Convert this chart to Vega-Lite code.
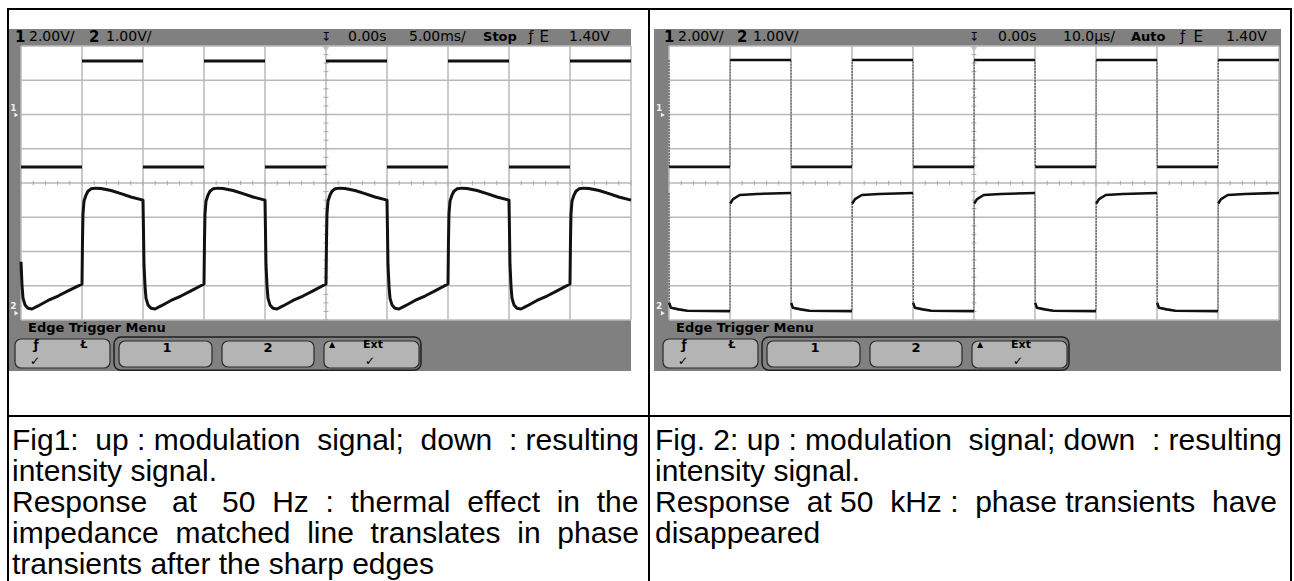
{
"$schema": "https://vega.github.io/schema/vega-lite/v6.json",
"padding": {"left": 7, "top": 8, "right": 0, "bottom": 0},
"background": "white",
"data": {"values": [{}]},
"datasets": {
"divx": [{"d":0},{"d":1},{"d":2},{"d":3},{"d":4},{"d":5},{"d":6},{"d":7},{"d":8},{"d":9},{"d":10}],
"divy": [{"d":-4},{"d":-3},{"d":-2},{"d":-1},{"d":0},{"d":1},{"d":2},{"d":3},{"d":4}],
"ticksx": [{"d":0},{"d":0.2},{"d":0.4},{"d":0.6},{"d":0.8},{"d":1},{"d":1.2},{"d":1.4},{"d":1.6},{"d":1.8},{"d":2},{"d":2.2},{"d":2.4},{"d":2.6},{"d":2.8},{"d":3},{"d":3.2},{"d":3.4},{"d":3.6},{"d":3.8},{"d":4},{"d":4.2},{"d":4.4},{"d":4.6},{"d":4.8},{"d":5},{"d":5.2},{"d":5.4},{"d":5.6},{"d":5.8},{"d":6},{"d":6.2},{"d":6.4},{"d":6.6},{"d":6.8},{"d":7},{"d":7.2},{"d":7.4},{"d":7.6},{"d":7.8},{"d":8},{"d":8.2},{"d":8.4},{"d":8.6},{"d":8.8},{"d":9},{"d":9.2},{"d":9.4},{"d":9.6},{"d":9.8},{"d":10}],
"ticksy": [{"d":-4},{"d":-3.75},{"d":-3.5},{"d":-3.25},{"d":-3},{"d":-2.75},{"d":-2.5},{"d":-2.25},{"d":-2},{"d":-1.75},{"d":-1.5},{"d":-1.25},{"d":-1},{"d":-0.75},{"d":-0.5},{"d":-0.25},{"d":0},{"d":0.25},{"d":0.5},{"d":0.75},{"d":1},{"d":1.25},{"d":1.5},{"d":1.75},{"d":2},{"d":2.25},{"d":2.5},{"d":2.75},{"d":3},{"d":3.25},{"d":3.5},{"d":3.75},{"d":4}],
"s1ch1": [
{"seg":"l0","t":0,"v":0.47},{"seg":"l0","t":1,"v":0.47},
{"seg":"h1","t":1,"v":3.56},{"seg":"h1","t":2,"v":3.56},
{"seg":"l2","t":2,"v":0.47},{"seg":"l2","t":3,"v":0.47},
{"seg":"h3","t":3,"v":3.56},{"seg":"h3","t":4,"v":3.56},
{"seg":"l4","t":4,"v":0.47},{"seg":"l4","t":5,"v":0.47},
{"seg":"h5","t":5,"v":3.56},{"seg":"h5","t":6,"v":3.56},
{"seg":"l6","t":6,"v":0.47},{"seg":"l6","t":7,"v":0.47},
{"seg":"h7","t":7,"v":3.56},{"seg":"h7","t":8,"v":3.56},
{"seg":"l8","t":8,"v":0.47},{"seg":"l8","t":9,"v":0.47},
{"seg":"h9","t":9,"v":3.56},{"seg":"h9","t":10,"v":3.56}],
"s1ch2": [
{"t":0,"v":-2.3},{"t":0.017,"v":-3.01},{"t":0.033,"v":-3.36},{"t":0.066,"v":-3.56},{"t":0.115,"v":-3.66},{"t":0.181,"v":-3.68},{"t":0.279,"v":-3.59},{"t":0.443,"v":-3.43},{"t":0.607,"v":-3.3},{"t":0.771,"v":-3.15},{"t":1,"v":-2.95},
{"t":1.008,"v":-1.69},{"t":1.016,"v":-0.91},{"t":1.033,"v":-0.53},{"t":1.066,"v":-0.35},{"t":1.098,"v":-0.24},{"t":1.148,"v":-0.17},{"t":1.23,"v":-0.15},{"t":1.311,"v":-0.16},{"t":1.475,"v":-0.22},{"t":1.639,"v":-0.31},{"t":1.803,"v":-0.41},{"t":2,"v":-0.5},
{"t":2.008,"v":-1.4},{"t":2.016,"v":-2.37},{"t":2.033,"v":-3.01},{"t":2.049,"v":-3.36},{"t":2.082,"v":-3.56},{"t":2.131,"v":-3.66},{"t":2.197,"v":-3.68},{"t":2.295,"v":-3.59},{"t":2.459,"v":-3.43},{"t":2.623,"v":-3.3},{"t":2.787,"v":-3.15},{"t":3,"v":-2.95},
{"t":3.008,"v":-1.69},{"t":3.016,"v":-0.91},{"t":3.033,"v":-0.53},{"t":3.066,"v":-0.35},{"t":3.098,"v":-0.24},{"t":3.148,"v":-0.17},{"t":3.23,"v":-0.15},{"t":3.311,"v":-0.16},{"t":3.475,"v":-0.22},{"t":3.639,"v":-0.31},{"t":3.803,"v":-0.41},{"t":4,"v":-0.5},
{"t":4.008,"v":-1.4},{"t":4.016,"v":-2.37},{"t":4.033,"v":-3.01},{"t":4.049,"v":-3.36},{"t":4.082,"v":-3.56},{"t":4.131,"v":-3.66},{"t":4.197,"v":-3.68},{"t":4.295,"v":-3.59},{"t":4.459,"v":-3.43},{"t":4.623,"v":-3.3},{"t":4.787,"v":-3.15},{"t":5,"v":-2.95},
{"t":5.008,"v":-1.69},{"t":5.016,"v":-0.91},{"t":5.033,"v":-0.53},{"t":5.066,"v":-0.35},{"t":5.098,"v":-0.24},{"t":5.148,"v":-0.17},{"t":5.23,"v":-0.15},{"t":5.311,"v":-0.16},{"t":5.475,"v":-0.22},{"t":5.639,"v":-0.31},{"t":5.803,"v":-0.41},{"t":6,"v":-0.5},
{"t":6.008,"v":-1.4},{"t":6.016,"v":-2.37},{"t":6.033,"v":-3.01},{"t":6.049,"v":-3.36},{"t":6.082,"v":-3.56},{"t":6.131,"v":-3.66},{"t":6.197,"v":-3.68},{"t":6.295,"v":-3.59},{"t":6.459,"v":-3.43},{"t":6.623,"v":-3.3},{"t":6.787,"v":-3.15},{"t":7,"v":-2.95},
{"t":7.008,"v":-1.69},{"t":7.016,"v":-0.91},{"t":7.033,"v":-0.53},{"t":7.066,"v":-0.35},{"t":7.098,"v":-0.24},{"t":7.148,"v":-0.17},{"t":7.23,"v":-0.15},{"t":7.311,"v":-0.16},{"t":7.475,"v":-0.22},{"t":7.639,"v":-0.31},{"t":7.803,"v":-0.41},{"t":8,"v":-0.5},
{"t":8.008,"v":-1.4},{"t":8.016,"v":-2.37},{"t":8.033,"v":-3.01},{"t":8.049,"v":-3.36},{"t":8.082,"v":-3.56},{"t":8.131,"v":-3.66},{"t":8.197,"v":-3.68},{"t":8.295,"v":-3.59},{"t":8.459,"v":-3.43},{"t":8.623,"v":-3.3},{"t":8.787,"v":-3.15},{"t":9,"v":-2.95},
{"t":9.008,"v":-1.69},{"t":9.016,"v":-0.91},{"t":9.033,"v":-0.53},{"t":9.066,"v":-0.35},{"t":9.098,"v":-0.24},{"t":9.148,"v":-0.17},{"t":9.23,"v":-0.15},{"t":9.311,"v":-0.16},{"t":9.475,"v":-0.22},{"t":9.639,"v":-0.31},{"t":9.803,"v":-0.41},{"t":10,"v":-0.5}],
"s2ch1": [
{"seg":"h0","t":0,"v":3.59},
{"seg":"l0","t":0.003,"v":0.47},{"seg":"l0","t":1,"v":0.47},
{"seg":"h1","t":1.003,"v":3.59},{"seg":"h1","t":2,"v":3.59},
{"seg":"l2","t":2.003,"v":0.47},{"seg":"l2","t":3,"v":0.47},
{"seg":"h3","t":3.003,"v":3.59},{"seg":"h3","t":4,"v":3.59},
{"seg":"l4","t":4.003,"v":0.47},{"seg":"l4","t":5,"v":0.47},
{"seg":"h5","t":5.003,"v":3.59},{"seg":"h5","t":6,"v":3.59},
{"seg":"l6","t":6.003,"v":0.47},{"seg":"l6","t":7,"v":0.47},
{"seg":"h7","t":7.003,"v":3.59},{"seg":"h7","t":8,"v":3.59},
{"seg":"l8","t":8.003,"v":0.47},{"seg":"l8","t":9,"v":0.47},
{"seg":"h9","t":9.003,"v":3.59},{"seg":"h9","t":10,"v":3.59}],
"s2ch2": [
{"seg":"h0","t":0,"v":-0.29},
{"seg":"l0","t":0.003,"v":-3.5},{"seg":"l0","t":0.03,"v":-3.64},{"seg":"l0","t":0.16,"v":-3.69},{"seg":"l0","t":0.3,"v":-3.73},{"seg":"l0","t":1,"v":-3.74},
{"seg":"h1","t":1.003,"v":-0.6},{"seg":"h1","t":1.05,"v":-0.47},{"seg":"h1","t":1.16,"v":-0.35},{"seg":"h1","t":1.44,"v":-0.32},{"seg":"h1","t":2,"v":-0.29},
{"seg":"l2","t":2.003,"v":-3.5},{"seg":"l2","t":2.03,"v":-3.64},{"seg":"l2","t":2.16,"v":-3.69},{"seg":"l2","t":2.3,"v":-3.73},{"seg":"l2","t":3,"v":-3.74},
{"seg":"h3","t":3.003,"v":-0.6},{"seg":"h3","t":3.05,"v":-0.47},{"seg":"h3","t":3.16,"v":-0.35},{"seg":"h3","t":3.44,"v":-0.32},{"seg":"h3","t":4,"v":-0.29},
{"seg":"l4","t":4.003,"v":-3.5},{"seg":"l4","t":4.03,"v":-3.64},{"seg":"l4","t":4.16,"v":-3.69},{"seg":"l4","t":4.3,"v":-3.73},{"seg":"l4","t":5,"v":-3.74},
{"seg":"h5","t":5.003,"v":-0.6},{"seg":"h5","t":5.05,"v":-0.47},{"seg":"h5","t":5.16,"v":-0.35},{"seg":"h5","t":5.44,"v":-0.32},{"seg":"h5","t":6,"v":-0.29},
{"seg":"l6","t":6.003,"v":-3.5},{"seg":"l6","t":6.03,"v":-3.64},{"seg":"l6","t":6.16,"v":-3.69},{"seg":"l6","t":6.3,"v":-3.73},{"seg":"l6","t":7,"v":-3.74},
{"seg":"h7","t":7.003,"v":-0.6},{"seg":"h7","t":7.05,"v":-0.47},{"seg":"h7","t":7.16,"v":-0.35},{"seg":"h7","t":7.44,"v":-0.32},{"seg":"h7","t":8,"v":-0.29},
{"seg":"l8","t":8.003,"v":-3.5},{"seg":"l8","t":8.03,"v":-3.64},{"seg":"l8","t":8.16,"v":-3.69},{"seg":"l8","t":8.3,"v":-3.73},{"seg":"l8","t":9,"v":-3.74},
{"seg":"h9","t":9.003,"v":-0.6},{"seg":"h9","t":9.05,"v":-0.47},{"seg":"h9","t":9.16,"v":-0.35},{"seg":"h9","t":9.44,"v":-0.32},{"seg":"h9","t":10,"v":-0.29}],
"cap1": [
{"line":1,"text":"Fig1: \u00a0up : modulation \u00a0signal; \u00a0down \u00a0: resulting"},
{"line":2,"text":"intensity signal."},
{"line":3,"text":"Response \u00a0\u00a0at \u00a0\u00a050 \u00a0Hz \u00a0: \u00a0thermal \u00a0effect \u00a0in \u00a0the"},
{"line":4,"text":"impedance \u00a0matched \u00a0line \u00a0translates \u00a0in \u00a0phase"},
{"line":5,"text":"transients after the sharp edges"}],
"cap2": [
{"line":1,"text":"Fig. 2: up : modulation \u00a0signal; down \u00a0: resulting"},
{"line":2,"text":"intensity signal."},
{"line":3,"text":"\u00a0Response \u00a0at 50 \u00a0kHz : \u00a0phase transients \u00a0have"},
{"line":4,"text":"disappeared"}]
},
"config": {
"view": {"stroke": "#000000", "strokeWidth": 2},
"axis": {"disable": true},
"legend": {"disable": true},
"text": {"font": "DejaVu Sans", "color": "#000000"}
},
"columns": 2,
"spacing": 0,
"bounds": "flush",
"concat": [
{"width": 641, "height": 407,
"layer": [
{"mark": {"type": "rect", "color": "#808080"},
 "encoding": {"x": {"datum": -0.197, "type": "quantitative", "scale": {"domain": [-0.2131, 10.2951], "nice": false, "zero": false}}, "x2": {"datum": 10.0},
 "y": {"datum": 4.496, "type": "quantitative", "scale": {"domain": [-6.803, 5.0803], "nice": false, "zero": false}}, "y2": {"datum": -5.489}}},
{"mark": {"type": "rect", "color": "#ffffff"}, "encoding": {"x": {"datum": 0, "type": "quantitative"}, "x2": {"datum": 10}, "y": {"datum": 4, "type": "quantitative"}, "y2": {"datum": -4}}},
{"data": {"name": "divx"}, "mark": {"type": "rule", "color": "#b9b9b9", "strokeWidth": 1.5}, "encoding": {"x": {"field": "d", "type": "quantitative"}, "y": {"datum": -4, "type": "quantitative"}, "y2": {"datum": 4}}},
{"data": {"name": "divy"}, "mark": {"type": "rule", "color": "#b9b9b9", "strokeWidth": 1.5}, "encoding": {"y": {"field": "d", "type": "quantitative"}, "x": {"datum": 0, "type": "quantitative"}, "x2": {"datum": 10}}},
{"data": {"name": "ticksx"}, "mark": {"type": "rule", "color": "#a8a8a8", "strokeWidth": 1}, "encoding": {"x": {"field": "d", "type": "quantitative"}, "y": {"datum": -0.065, "type": "quantitative"}, "y2": {"datum": 0.065}}},
{"data": {"name": "ticksy"}, "mark": {"type": "rule", "color": "#a8a8a8", "strokeWidth": 1}, "encoding": {"y": {"field": "d", "type": "quantitative"}, "x": {"datum": 4.96, "type": "quantitative"}, "x2": {"datum": 5.04}}},
{"mark": {"type": "point", "shape": "triangle-down", "filled": true, "color": "#c4c4c4", "size": 40, "opacity": 1}, "encoding": {"x": {"datum": 5, "type": "quantitative"}, "y": {"datum": 3.9, "type": "quantitative"}}},
{"data": {"name": "s1ch1"}, "mark": {"type": "line", "color": "#111111", "strokeWidth": 3, "strokeCap": "butt"}, "encoding": {"x": {"field": "t", "type": "quantitative"}, "y": {"field": "v", "type": "quantitative"}, "detail": {"field": "seg", "type": "nominal"}}},
{"data": {"name": "s1ch2"}, "mark": {"type": "line", "color": "#111111", "strokeWidth": 3, "strokeJoin": "round"}, "encoding": {"x": {"field": "t", "type": "quantitative"}, "y": {"field": "v", "type": "quantitative"}}},
{"mark": {"type": "text", "text": "1", "align": "left", "baseline": "middle", "fontSize": 15, "fontWeight": "bold"}, "encoding": {"x": {"datum": -0.098, "type": "quantitative"}, "y": {"datum": 4.25, "type": "quantitative"}}},
{"mark": {"type": "text", "text": "2.00V/", "align": "left", "baseline": "middle", "fontSize": 14}, "encoding": {"x": {"datum": 0.131, "type": "quantitative"}, "y": {"datum": 4.25, "type": "quantitative"}}},
{"mark": {"type": "text", "text": "2", "align": "left", "baseline": "middle", "fontSize": 15, "fontWeight": "bold"}, "encoding": {"x": {"datum": 1.115, "type": "quantitative"}, "y": {"datum": 4.25, "type": "quantitative"}}},
{"mark": {"type": "text", "text": "1.00V/", "align": "left", "baseline": "middle", "fontSize": 14}, "encoding": {"x": {"datum": 1.393, "type": "quantitative"}, "y": {"datum": 4.25, "type": "quantitative"}}},
{"mark": {"type": "text", "text": "↧", "align": "center", "baseline": "middle", "fontSize": 12}, "encoding": {"x": {"datum": 5.0, "type": "quantitative"}, "y": {"datum": 4.25, "type": "quantitative"}}},
{"mark": {"type": "text", "text": "0.00s", "align": "left", "baseline": "middle", "fontSize": 14}, "encoding": {"x": {"datum": 5.361, "type": "quantitative"}, "y": {"datum": 4.25, "type": "quantitative"}}},
{"mark": {"type": "text", "text": "5.00ms/", "align": "left", "baseline": "middle", "fontSize": 14}, "encoding": {"x": {"datum": 6.361, "type": "quantitative"}, "y": {"datum": 4.25, "type": "quantitative"}}},
{"mark": {"type": "text", "text": "Stop", "align": "left", "baseline": "middle", "fontSize": 13, "fontWeight": "bold"}, "encoding": {"x": {"datum": 7.574, "type": "quantitative"}, "y": {"datum": 4.25, "type": "quantitative"}}},
{"mark": {"type": "text", "text": "ƒ", "align": "center", "baseline": "middle", "fontSize": 14}, "encoding": {"x": {"datum": 8.36, "type": "quantitative"}, "y": {"datum": 4.25, "type": "quantitative"}}},
{"mark": {"type": "text", "text": "E", "align": "left", "baseline": "middle", "fontSize": 15}, "encoding": {"x": {"datum": 8.5, "type": "quantitative"}, "y": {"datum": 4.25, "type": "quantitative"}}},
{"mark": {"type": "text", "text": "1.40V", "align": "left", "baseline": "middle", "fontSize": 14}, "encoding": {"x": {"datum": 8.984, "type": "quantitative"}, "y": {"datum": 4.25, "type": "quantitative"}}},
{"mark": {"type": "text", "text": "1", "align": "center", "baseline": "middle", "fontSize": 9, "fontWeight": "bold", "color": "#eeeeee"}, "encoding": {"x": {"datum": -0.125, "type": "quantitative"}, "y": {"datum": 2.2, "type": "quantitative"}}},
{"mark": {"type": "point", "shape": "triangle-right", "filled": true, "color": "#eeeeee", "size": 22, "opacity": 1}, "encoding": {"x": {"datum": -0.075, "type": "quantitative"}, "y": {"datum": 1.985, "type": "quantitative"}}},
{"mark": {"type": "text", "text": "2", "align": "center", "baseline": "middle", "fontSize": 9, "fontWeight": "bold", "color": "#eeeeee"}, "encoding": {"x": {"datum": -0.125, "type": "quantitative"}, "y": {"datum": -3.59, "type": "quantitative"}}},
{"mark": {"type": "point", "shape": "triangle-right", "filled": true, "color": "#eeeeee", "size": 22, "opacity": 1}, "encoding": {"x": {"datum": -0.075, "type": "quantitative"}, "y": {"datum": -3.8, "type": "quantitative"}}},
{"mark": {"type": "text", "text": "Edge  Trigger  Menu", "align": "left", "baseline": "middle", "fontSize": 13, "fontWeight": "bold"}, "encoding": {"x": {"datum": 0.115, "type": "quantitative"}, "y": {"datum": -4.234, "type": "quantitative"}}},
{"mark": {"type": "rect", "fillOpacity": 0, "stroke": "#1e1e1e", "strokeWidth": 1.5, "cornerRadius": 7}, "encoding": {"x": {"datum": 1.525, "type": "quantitative"}, "x2": {"datum": 6.557}, "y": {"datum": -4.496, "type": "quantitative"}, "y2": {"datum": -5.47}}},
{"mark": {"type": "rect", "fill": "#b4b4b4", "stroke": "#2a2a2a", "strokeWidth": 1.2, "cornerRadius": 6}, "encoding": {"x": {"datum": -0.098, "type": "quantitative"}, "x2": {"datum": 1.459}, "y": {"datum": -4.555, "type": "quantitative"}, "y2": {"datum": -5.401}}},
{"mark": {"type": "rect", "fill": "#b4b4b4", "stroke": "#2a2a2a", "strokeWidth": 1.2, "cornerRadius": 6}, "encoding": {"x": {"datum": 1.607, "type": "quantitative"}, "x2": {"datum": 3.131}, "y": {"datum": -4.613, "type": "quantitative"}, "y2": {"datum": -5.372}}},
{"mark": {"type": "rect", "fill": "#b4b4b4", "stroke": "#2a2a2a", "strokeWidth": 1.2, "cornerRadius": 6}, "encoding": {"x": {"datum": 3.295, "type": "quantitative"}, "x2": {"datum": 4.803}, "y": {"datum": -4.613, "type": "quantitative"}, "y2": {"datum": -5.372}}},
{"mark": {"type": "rect", "fill": "#b4b4b4", "stroke": "#2a2a2a", "strokeWidth": 1.2, "cornerRadius": 6}, "encoding": {"x": {"datum": 4.967, "type": "quantitative"}, "x2": {"datum": 6.525}, "y": {"datum": -4.613, "type": "quantitative"}, "y2": {"datum": -5.401}}},
{"mark": {"type": "text", "text": "ƒ", "align": "center", "baseline": "middle", "fontSize": 12, "fontWeight": "bold"}, "encoding": {"x": {"datum": 0.246, "type": "quantitative"}, "y": {"datum": -4.72, "type": "quantitative"}}},
{"mark": {"type": "text", "text": "Ł", "align": "center", "baseline": "middle", "fontSize": 11, "fontWeight": "bold"}, "encoding": {"x": {"datum": 1.033, "type": "quantitative"}, "y": {"datum": -4.72, "type": "quantitative"}}},
{"mark": {"type": "text", "text": "✓", "align": "center", "baseline": "middle", "fontSize": 12, "fontWeight": "bold"}, "encoding": {"x": {"datum": 0.23, "type": "quantitative"}, "y": {"datum": -5.2, "type": "quantitative"}}},
{"mark": {"type": "text", "text": "1", "align": "center", "baseline": "middle", "fontSize": 13, "fontWeight": "bold"}, "encoding": {"x": {"datum": 2.393, "type": "quantitative"}, "y": {"datum": -4.818, "type": "quantitative"}}},
{"mark": {"type": "text", "text": "2", "align": "center", "baseline": "middle", "fontSize": 13, "fontWeight": "bold"}, "encoding": {"x": {"datum": 4.049, "type": "quantitative"}, "y": {"datum": -4.818, "type": "quantitative"}}},
{"mark": {"type": "text", "text": "▲", "align": "center", "baseline": "middle", "fontSize": 8}, "encoding": {"x": {"datum": 5.098, "type": "quantitative"}, "y": {"datum": -4.74, "type": "quantitative"}}},
{"mark": {"type": "text", "text": "Ext", "align": "center", "baseline": "middle", "fontSize": 11, "fontWeight": "bold"}, "encoding": {"x": {"datum": 5.77, "type": "quantitative"}, "y": {"datum": -4.74, "type": "quantitative"}}},
{"mark": {"type": "text", "text": "✓", "align": "center", "baseline": "middle", "fontSize": 12, "fontWeight": "bold"}, "encoding": {"x": {"datum": 5.72, "type": "quantitative"}, "y": {"datum": -5.2, "type": "quantitative"}}}
]},
{"width": 642, "height": 407,
"layer": [
{"mark": {"type": "rect", "color": "#808080"},
 "encoding": {"x": {"datum": -0.246, "type": "quantitative", "scale": {"domain": [-0.3279, 10.1967], "nice": false, "zero": false}}, "x2": {"datum": 10.033},
 "y": {"datum": 4.496, "type": "quantitative", "scale": {"domain": [-6.803, 5.0803], "nice": false, "zero": false}}, "y2": {"datum": -5.489}}},
{"mark": {"type": "rect", "color": "#ffffff"}, "encoding": {"x": {"datum": 0, "type": "quantitative"}, "x2": {"datum": 10}, "y": {"datum": 4, "type": "quantitative"}, "y2": {"datum": -4}}},
{"data": {"name": "divx"}, "mark": {"type": "rule", "color": "#b9b9b9", "strokeWidth": 1.5}, "encoding": {"x": {"field": "d", "type": "quantitative"}, "y": {"datum": -4, "type": "quantitative"}, "y2": {"datum": 4}}},
{"data": {"name": "divy"}, "mark": {"type": "rule", "color": "#b9b9b9", "strokeWidth": 1.5}, "encoding": {"y": {"field": "d", "type": "quantitative"}, "x": {"datum": 0, "type": "quantitative"}, "x2": {"datum": 10}}},
{"data": {"name": "ticksx"}, "mark": {"type": "rule", "color": "#a8a8a8", "strokeWidth": 1}, "encoding": {"x": {"field": "d", "type": "quantitative"}, "y": {"datum": -0.065, "type": "quantitative"}, "y2": {"datum": 0.065}}},
{"data": {"name": "ticksy"}, "mark": {"type": "rule", "color": "#a8a8a8", "strokeWidth": 1}, "encoding": {"y": {"field": "d", "type": "quantitative"}, "x": {"datum": 4.96, "type": "quantitative"}, "x2": {"datum": 5.04}}},
{"mark": {"type": "point", "shape": "triangle-down", "filled": true, "color": "#c4c4c4", "size": 40, "opacity": 1}, "encoding": {"x": {"datum": 5, "type": "quantitative"}, "y": {"datum": 3.9, "type": "quantitative"}}},
{"data": {"name": "s2ch1"}, "mark": {"type": "line", "color": "#444444", "strokeWidth": 1, "strokeDash": [2, 1]}, "encoding": {"x": {"field": "t", "type": "quantitative"}, "y": {"field": "v", "type": "quantitative"}}},
{"data": {"name": "s2ch2"}, "mark": {"type": "line", "color": "#444444", "strokeWidth": 1, "strokeDash": [2, 1]}, "encoding": {"x": {"field": "t", "type": "quantitative"}, "y": {"field": "v", "type": "quantitative"}}},
{"data": {"name": "s2ch1"}, "mark": {"type": "line", "color": "#111111", "strokeWidth": 2.6, "strokeCap": "butt"}, "encoding": {"x": {"field": "t", "type": "quantitative"}, "y": {"field": "v", "type": "quantitative"}, "detail": {"field": "seg", "type": "nominal"}}},
{"data": {"name": "s2ch2"}, "mark": {"type": "line", "color": "#111111", "strokeWidth": 2.6, "strokeCap": "butt", "strokeJoin": "round"}, "encoding": {"x": {"field": "t", "type": "quantitative"}, "y": {"field": "v", "type": "quantitative"}, "detail": {"field": "seg", "type": "nominal"}}},
{"mark": {"type": "text", "text": "1", "align": "left", "baseline": "middle", "fontSize": 15, "fontWeight": "bold"}, "encoding": {"x": {"datum": -0.082, "type": "quantitative"}, "y": {"datum": 4.25, "type": "quantitative"}}},
{"mark": {"type": "text", "text": "2.00V/", "align": "left", "baseline": "middle", "fontSize": 14}, "encoding": {"x": {"datum": 0.148, "type": "quantitative"}, "y": {"datum": 4.25, "type": "quantitative"}}},
{"mark": {"type": "text", "text": "2", "align": "left", "baseline": "middle", "fontSize": 15, "fontWeight": "bold"}, "encoding": {"x": {"datum": 1.115, "type": "quantitative"}, "y": {"datum": 4.25, "type": "quantitative"}}},
{"mark": {"type": "text", "text": "1.00V/", "align": "left", "baseline": "middle", "fontSize": 14}, "encoding": {"x": {"datum": 1.377, "type": "quantitative"}, "y": {"datum": 4.25, "type": "quantitative"}}},
{"mark": {"type": "text", "text": "↧", "align": "center", "baseline": "middle", "fontSize": 12}, "encoding": {"x": {"datum": 5.0, "type": "quantitative"}, "y": {"datum": 4.25, "type": "quantitative"}}},
{"mark": {"type": "text", "text": "0.00s", "align": "left", "baseline": "middle", "fontSize": 14}, "encoding": {"x": {"datum": 5.393, "type": "quantitative"}, "y": {"datum": 4.25, "type": "quantitative"}}},
{"mark": {"type": "text", "text": "10.0µs/", "align": "left", "baseline": "middle", "fontSize": 14}, "encoding": {"x": {"datum": 6.459, "type": "quantitative"}, "y": {"datum": 4.25, "type": "quantitative"}}},
{"mark": {"type": "text", "text": "Auto", "align": "left", "baseline": "middle", "fontSize": 13, "fontWeight": "bold"}, "encoding": {"x": {"datum": 7.574, "type": "quantitative"}, "y": {"datum": 4.25, "type": "quantitative"}}},
{"mark": {"type": "text", "text": "ƒ", "align": "center", "baseline": "middle", "fontSize": 14}, "encoding": {"x": {"datum": 8.42, "type": "quantitative"}, "y": {"datum": 4.25, "type": "quantitative"}}},
{"mark": {"type": "text", "text": "E", "align": "left", "baseline": "middle", "fontSize": 15}, "encoding": {"x": {"datum": 8.6, "type": "quantitative"}, "y": {"datum": 4.25, "type": "quantitative"}}},
{"mark": {"type": "text", "text": "1.40V", "align": "left", "baseline": "middle", "fontSize": 14}, "encoding": {"x": {"datum": 9.131, "type": "quantitative"}, "y": {"datum": 4.25, "type": "quantitative"}}},
{"mark": {"type": "text", "text": "1", "align": "center", "baseline": "middle", "fontSize": 9, "fontWeight": "bold", "color": "#eeeeee"}, "encoding": {"x": {"datum": -0.16, "type": "quantitative"}, "y": {"datum": 2.2, "type": "quantitative"}}},
{"mark": {"type": "point", "shape": "triangle-right", "filled": true, "color": "#eeeeee", "size": 22, "opacity": 1}, "encoding": {"x": {"datum": -0.1, "type": "quantitative"}, "y": {"datum": 1.985, "type": "quantitative"}}},
{"mark": {"type": "text", "text": "2", "align": "center", "baseline": "middle", "fontSize": 9, "fontWeight": "bold", "color": "#eeeeee"}, "encoding": {"x": {"datum": -0.16, "type": "quantitative"}, "y": {"datum": -3.59, "type": "quantitative"}}},
{"mark": {"type": "point", "shape": "triangle-right", "filled": true, "color": "#eeeeee", "size": 22, "opacity": 1}, "encoding": {"x": {"datum": -0.1, "type": "quantitative"}, "y": {"datum": -3.8, "type": "quantitative"}}},
{"mark": {"type": "text", "text": "Edge  Trigger  Menu", "align": "left", "baseline": "middle", "fontSize": 13, "fontWeight": "bold"}, "encoding": {"x": {"datum": 0.115, "type": "quantitative"}, "y": {"datum": -4.234, "type": "quantitative"}}},
{"mark": {"type": "rect", "fillOpacity": 0, "stroke": "#1e1e1e", "strokeWidth": 1.5, "cornerRadius": 7}, "encoding": {"x": {"datum": 1.525, "type": "quantitative"}, "x2": {"datum": 6.557}, "y": {"datum": -4.496, "type": "quantitative"}, "y2": {"datum": -5.47}}},
{"mark": {"type": "rect", "fill": "#b4b4b4", "stroke": "#2a2a2a", "strokeWidth": 1.2, "cornerRadius": 6}, "encoding": {"x": {"datum": -0.098, "type": "quantitative"}, "x2": {"datum": 1.459}, "y": {"datum": -4.555, "type": "quantitative"}, "y2": {"datum": -5.401}}},
{"mark": {"type": "rect", "fill": "#b4b4b4", "stroke": "#2a2a2a", "strokeWidth": 1.2, "cornerRadius": 6}, "encoding": {"x": {"datum": 1.607, "type": "quantitative"}, "x2": {"datum": 3.131}, "y": {"datum": -4.613, "type": "quantitative"}, "y2": {"datum": -5.372}}},
{"mark": {"type": "rect", "fill": "#b4b4b4", "stroke": "#2a2a2a", "strokeWidth": 1.2, "cornerRadius": 6}, "encoding": {"x": {"datum": 3.295, "type": "quantitative"}, "x2": {"datum": 4.803}, "y": {"datum": -4.613, "type": "quantitative"}, "y2": {"datum": -5.372}}},
{"mark": {"type": "rect", "fill": "#b4b4b4", "stroke": "#2a2a2a", "strokeWidth": 1.2, "cornerRadius": 6}, "encoding": {"x": {"datum": 4.967, "type": "quantitative"}, "x2": {"datum": 6.525}, "y": {"datum": -4.613, "type": "quantitative"}, "y2": {"datum": -5.401}}},
{"mark": {"type": "text", "text": "ƒ", "align": "center", "baseline": "middle", "fontSize": 12, "fontWeight": "bold"}, "encoding": {"x": {"datum": 0.246, "type": "quantitative"}, "y": {"datum": -4.72, "type": "quantitative"}}},
{"mark": {"type": "text", "text": "Ł", "align": "center", "baseline": "middle", "fontSize": 11, "fontWeight": "bold"}, "encoding": {"x": {"datum": 1.033, "type": "quantitative"}, "y": {"datum": -4.72, "type": "quantitative"}}},
{"mark": {"type": "text", "text": "✓", "align": "center", "baseline": "middle", "fontSize": 12, "fontWeight": "bold"}, "encoding": {"x": {"datum": 0.23, "type": "quantitative"}, "y": {"datum": -5.2, "type": "quantitative"}}},
{"mark": {"type": "text", "text": "1", "align": "center", "baseline": "middle", "fontSize": 13, "fontWeight": "bold"}, "encoding": {"x": {"datum": 2.393, "type": "quantitative"}, "y": {"datum": -4.818, "type": "quantitative"}}},
{"mark": {"type": "text", "text": "2", "align": "center", "baseline": "middle", "fontSize": 13, "fontWeight": "bold"}, "encoding": {"x": {"datum": 4.049, "type": "quantitative"}, "y": {"datum": -4.818, "type": "quantitative"}}},
{"mark": {"type": "text", "text": "▲", "align": "center", "baseline": "middle", "fontSize": 8}, "encoding": {"x": {"datum": 5.098, "type": "quantitative"}, "y": {"datum": -4.74, "type": "quantitative"}}},
{"mark": {"type": "text", "text": "Ext", "align": "center", "baseline": "middle", "fontSize": 11, "fontWeight": "bold"}, "encoding": {"x": {"datum": 5.77, "type": "quantitative"}, "y": {"datum": -4.74, "type": "quantitative"}}},
{"mark": {"type": "text", "text": "✓", "align": "center", "baseline": "middle", "fontSize": 12, "fontWeight": "bold"}, "encoding": {"x": {"datum": 5.72, "type": "quantitative"}, "y": {"datum": -5.2, "type": "quantitative"}}}
]},
{"width": 641, "height": 166, "data": {"name": "cap1"},
 "mark": {"type": "text", "align": "left", "baseline": "alphabetic", "font": "Liberation Sans", "fontSize": 30, "color": "#000000"},
 "encoding": {"x": {"value": 4}, "y": {"field": "line", "type": "quantitative", "scale": {"domain": [-0.0968, 5.258], "reverse": true, "nice": false, "zero": false}}, "text": {"field": "text"}}},
{"width": 642, "height": 166, "data": {"name": "cap2"},
 "mark": {"type": "text", "align": "left", "baseline": "alphabetic", "font": "Liberation Sans", "fontSize": 30, "color": "#000000"},
 "encoding": {"x": {"value": 6}, "y": {"field": "line", "type": "quantitative", "scale": {"domain": [-0.0968, 5.258], "reverse": true, "nice": false, "zero": false}}, "text": {"field": "text"}}}
]
}
